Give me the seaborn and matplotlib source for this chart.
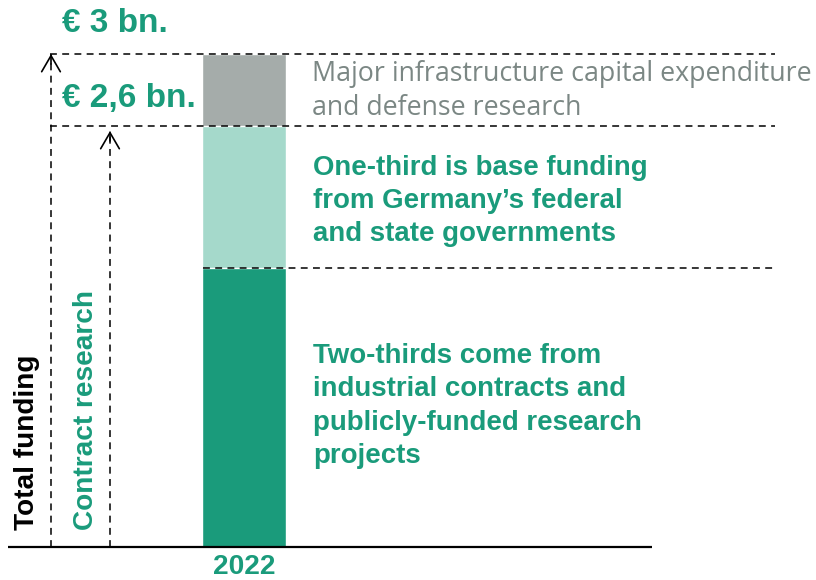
import matplotlib
matplotlib.use("Agg")
import matplotlib.pyplot as plt
import seaborn as sns
import pandas as pd

# ---- data ----
years = ["2022"]
contract_industrial = [1.70]      # two-thirds (dark green)
base_funding = [0.86]             # one-third (light green)
infrastructure_defense = [0.44]   # grey top segment
total_label = "€ 3 bn."
contract_label = "€ 2,6 bn."

DARK = "#1a9b7b"
LIGHT = "#a5d9cb"
GREY = "#a5acaa"
GREY_TXT = "#7b8784"

sns.set_theme(style="white")
plt.rcParams["font.family"] = ["Liberation Sans", "DejaVu Sans"]

seg1 = contract_industrial[0]
seg2 = seg1 + base_funding[0]
seg3 = seg2 + infrastructure_defense[0]
df = pd.DataFrame({
    "year": years,
    "dark": [seg1],
    "light": [seg2],
    "total": [seg3],
})

fig = plt.figure(figsize=(8.16, 5.8), dpi=100)
ax = fig.add_axes([0, 0, 1, 1])

sns.barplot(data=df, x="year", y="total", color=GREY, width=0.8,
            edgecolor="white", linewidth=1, ax=ax, saturation=1)
sns.barplot(data=df, x="year", y="light", color=LIGHT, width=0.8,
            edgecolor="white", linewidth=1, ax=ax, saturation=1)
sns.barplot(data=df, x="year", y="dark", color=DARK, width=0.8,
            edgecolor="white", linewidth=1, ax=ax, saturation=1)

# pixel-based layout helpers
PXU = 105.0     # px per x unit
CX = 244.0      # bar centre px
Y0 = 547.0      # baseline px (from top)
PYU = (547.0 - 54.0) / seg3

def X(px):
    return (px - CX) / PXU

def Y(py):
    return (Y0 - py) / PYU

ax.set_xlim(X(0), X(816))
ax.set_ylim(Y(580), Y(0))
ax.axis("off")

# baseline
ax.plot([X(8), X(652)], [0, 0], color="black", lw=1.6, solid_capstyle="butt")

# dashed reference lines
dash = dict(color="black", lw=1.1, ls=(0, (4.5, 3.5)))
ax.plot([X(50), X(775)], [seg3, seg3], **dash)
ax.plot([X(50), X(775)], [seg2, seg2], **dash)
ax.plot([X(203), X(775)], [seg1, seg1], **dash)

# vertical dashed arrows: dashed shaft + solid open head
head_kw = dict(arrowstyle="->,head_length=0.55,head_width=0.32", color="black",
               lw=1.2, shrinkA=0, shrinkB=0, mutation_scale=21)
for xpx, ytop in [(51, seg3), (110, Y(131))]:
    ax.plot([X(xpx), X(xpx)], [0, ytop], **dash)
    ax.annotate("", xy=(X(xpx), ytop), xytext=(X(xpx), ytop - 10 / PYU),
                arrowprops=head_kw)

# value labels
ax.text(X(62), Y(23), total_label, color=DARK, fontsize=24, fontweight="bold",
        ha="left", va="center")
ax.text(X(62), Y(98), contract_label, color=DARK, fontsize=24, fontweight="bold",
        ha="left", va="center")

# side labels
ax.text(X(27), Y(530), "Total funding", color="black", fontsize=20.2,
        fontweight="bold", rotation=90, ha="center", va="bottom")
ax.text(X(86), Y(530), "Contract research", color=DARK, fontsize=20.2,
        fontweight="bold", rotation=90, ha="center", va="bottom")

# x label
ax.text(0, Y(567), years[0], color=DARK, fontsize=20.2, fontweight="bold",
        ha="center", va="center")

# descriptions
ax.text(X(312), Y(91), "Major infrastructure capital expenditure\nand defense research",
        color=GREY_TXT, fontsize=19.3, ha="left", va="center",
        family=["Open Sans", "DejaVu Sans"], linespacing=1.25)
ax.text(X(313), Y(201), "One-third is base funding\nfrom Germany’s federal\nand state governments",
        color=DARK, fontsize=19.9, fontweight="bold", ha="left", va="center",
        linespacing=1.36)
ax.text(X(313), Y(406), "Two-thirds come from\nindustrial contracts and\npublicly-funded research\nprojects",
        color=DARK, fontsize=19.9, fontweight="bold", ha="left", va="center",
        linespacing=1.36)

fig.savefig("out.png", dpi=100)
